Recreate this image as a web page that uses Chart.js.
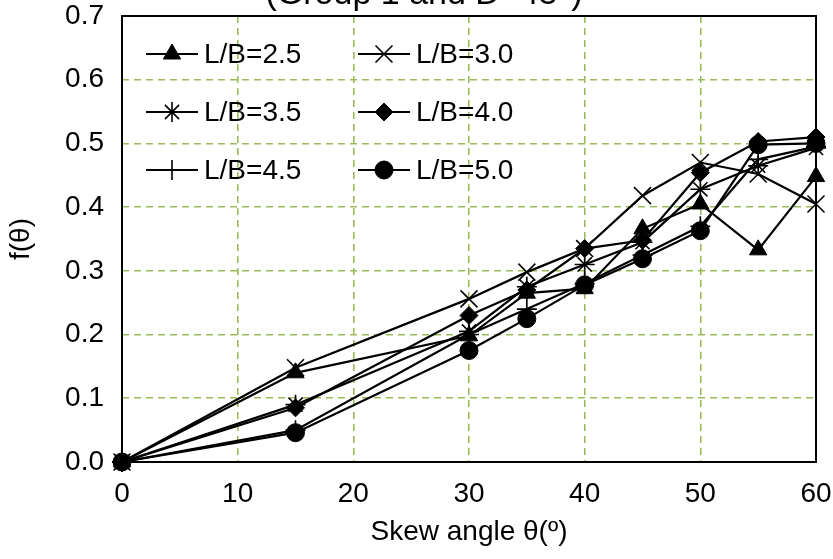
<!DOCTYPE html>
<html><head><meta charset="utf-8">
<script src="https://cdn.jsdelivr.net/npm/chart.js@4.4.0/dist/chart.umd.min.js"></script>
<style>html,body{margin:0;padding:0;background:#fff;} #wrap{width:833px;height:559px;position:relative;}</style>
</head><body><div id="wrap"><canvas id="c" width="833" height="559"></canvas></div>
<script>
const angles = [0, 15, 30, 35, 40, 45, 50, 55, 60];
const seriesNames = ['L/B=2.5', 'L/B=3.0', 'L/B=3.5', 'L/B=4.0', 'L/B=4.5', 'L/B=5.0'];
const lb25 = [0, 0.140, 0.198, 0.265, 0.272, 0.366, 0.405, 0.333, 0.448];
const lb30 = [0, 0.148, 0.256, 0.298, 0.335, 0.418, 0.470, 0.452, 0.405];
const lb35 = [0, 0.090, 0.205, 0.275, 0.310, 0.345, 0.428, 0.465, 0.493];
const lb40 = [0, 0.085, 0.230, 0.270, 0.335, 0.348, 0.454, 0.503, 0.510];
const lb45 = [0, 0.050, 0.200, 0.240, 0.280, 0.325, 0.370, 0.475, 0.495];
const lb50 = [0, 0.046, 0.175, 0.225, 0.278, 0.319, 0.363, 0.498, 0.500];
const xTickLabels = ['0', '10', '20', '30', '40', '50', '60'];
const yTickLabels = ['0.0', '0.1', '0.2', '0.3', '0.4', '0.5', '0.6', '0.7'];
const titleText = '(Group 1 and D=45°)';
const xTitle = 'Skew angle θ(º)';
const yTitle = 'f(θ)';

const FONT = '"Liberation Sans", Arial, sans-serif';
const styles = [
  {pointStyle: 'triangle', radius: 10, bw: 1},
  {pointStyle: 'crossRot', radius: 12, bw: 1.6},
  {pointStyle: 'star', radius: 10, bw: 1.6},
  {pointStyle: 'rectRot', radius: 9, bw: 1},
  {pointStyle: 'cross', radius: 10, bw: 1.6},
  {pointStyle: 'circle', radius: 9, bw: 1}
];
const allSeries = [lb25, lb30, lb35, lb40, lb45, lb50];

const datasets = allSeries.map((vals, i) => ({
  label: seriesNames[i],
  data: vals.map((v, j) => ({x: angles[j], y: v})),
  borderColor: '#000',
  backgroundColor: '#000',
  borderWidth: 2.2,
  pointStyle: styles[i].pointStyle,
  pointRadius: styles[i].radius,
  pointHoverRadius: styles[i].radius,
  pointBorderWidth: styles[i].bw,
  pointBackgroundColor: '#000',
  pointBorderColor: '#000',
  tension: 0,
  clip: false
}));

const framePlugin = {
  id: 'frame',
  beforeDatasetsDraw(chart) {
    const {ctx, chartArea: a} = chart;
    ctx.save();
    ctx.strokeStyle = '#000';
    ctx.lineWidth = 2;
    ctx.strokeRect(a.left, a.top, a.right - a.left, a.bottom - a.top);
    ctx.restore();
  },
  afterDraw(chart) {
    const {ctx} = chart;
    ctx.save();
    ctx.fillStyle = '#000';
    ctx.font = '34px ' + FONT;
    ctx.textAlign = 'center';
    ctx.textBaseline = 'alphabetic';
    ctx.fillText(titleText, 424, 4);
    // legend
    const cols = [146, 358];
    const rows = [54, 112, 170];
    ctx.font = '28px ' + FONT;
    ctx.textAlign = 'left';
    ctx.textBaseline = 'middle';
    for (let i = 0; i < seriesNames.length; i++) {
      const cx = cols[i % 2];
      const cy = rows[Math.floor(i / 2)];
      ctx.strokeStyle = '#000';
      ctx.lineWidth = 2.2;
      ctx.beginPath();
      ctx.moveTo(cx, cy);
      ctx.lineTo(cx + 52, cy);
      ctx.stroke();
      ctx.fillStyle = '#000';
      ctx.lineWidth = styles[i].bw;
      Chart.helpers.drawPoint(ctx, {pointStyle: styles[i].pointStyle, radius: styles[i].radius, rotation: 0, borderWidth: styles[i].bw}, cx + 26, cy);
      ctx.fillStyle = '#000';
      ctx.fillText(seriesNames[i], cx + 58, cy + 1);
    }
    ctx.restore();
  }
};

new Chart(document.getElementById('c'), {
  type: 'line',
  data: {datasets},
  options: {
    responsive: false,
    animation: false,
    devicePixelRatio: 1,
    layout: {padding: {left: 0, right: 17, top: 16, bottom: 0}},
    plugins: {legend: {display: false}, tooltip: {enabled: false}, title: {display: false}},
    scales: {
      x: {
        type: 'linear', min: 0, max: 60,
        afterFit(s) { s.height = 97; s.paddingLeft = 0; s.paddingRight = 0; },
        afterBuildTicks(s) { s.ticks = xTickLabels.map(t => ({value: Number(t)})); },
        ticks: {padding: 15, color: '#000', font: {family: FONT, size: 28}, callback: (v) => xTickLabels[xTickLabels.indexOf(String(v))] ?? ''},
        grid: {color: '#9BBB59', lineWidth: 1.6, drawTicks: false},
        border: {display: false, dash: [7, 5]},
        title: {display: true, text: xTitle, color: '#000', font: {family: FONT, size: 28}, padding: {top: 0, bottom: 10}}
      },
      y: {
        type: 'linear', min: 0, max: 0.7,
        afterFit(s) { s.width = 122; s.paddingTop = 0; s.paddingBottom = 0; },
        afterBuildTicks(s) { s.ticks = yTickLabels.map(t => ({value: Number(t)})); },
        ticks: {padding: 18, color: '#000', font: {family: FONT, size: 28}, callback: (v) => yTickLabels[Math.round(v * 10)]},
        grid: {color: '#9BBB59', lineWidth: 1.6, drawTicks: false},
        border: {display: false, dash: [7, 5]},
        title: {display: true, text: yTitle, color: '#000', font: {family: FONT, size: 28}, padding: {top: 4, bottom: 0}}
      }
    }
  },
  plugins: [framePlugin]
});
</script></body></html>
